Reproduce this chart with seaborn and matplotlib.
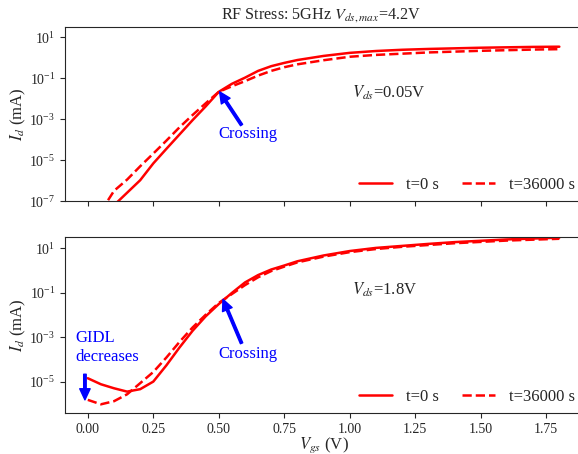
import numpy as np
import pandas as pd
import matplotlib
matplotlib.use("Agg")
import matplotlib.pyplot as plt
import seaborn as sns

# ---------------- data (log10 of Id in mA) ----------------
vgs_top_t0 = [0.10, 0.20, 0.25, 0.30, 0.35, 0.40, 0.45, 0.50, 0.55, 0.60, 0.65, 0.70,
              0.75, 0.80, 0.90, 1.00, 1.10, 1.20, 1.30, 1.40, 1.50, 1.60, 1.70, 1.80]
log_top_t0 = [-7.2, -5.98, -5.16, -4.45, -3.75, -3.05, -2.38, -1.67, -1.28, -0.98, -0.65, -0.42,
              -0.26, -0.12, 0.08, 0.23, 0.32, 0.38, 0.42, 0.45, 0.48, 0.50, 0.52, 0.53]

vgs_top_t1 = [0.05, 0.10, 0.15, 0.20, 0.25, 0.30, 0.35, 0.40, 0.45, 0.50, 0.55, 0.60, 0.65,
              0.70, 0.75, 0.80, 0.90, 1.00, 1.10, 1.20, 1.30, 1.40, 1.50, 1.60, 1.70, 1.80]
log_top_t1 = [-7.5, -6.5, -5.95, -5.3, -4.68, -4.05, -3.4, -2.8, -2.23, -1.67, -1.4, -1.15, -0.88,
              -0.65, -0.47, -0.33, -0.13, 0.04, 0.13, 0.19, 0.25, 0.29, 0.33, 0.36, 0.39, 0.41]

vgs_bot = [0.00, 0.05, 0.10, 0.15, 0.20, 0.25, 0.30, 0.35, 0.40, 0.45, 0.50, 0.55, 0.60, 0.65,
           0.70, 0.75, 0.80, 0.90, 1.00, 1.10, 1.20, 1.30, 1.40, 1.50, 1.60, 1.70, 1.80]
log_bot_t0 = [-4.83, -5.10, -5.28, -5.43, -5.32, -4.98, -4.25, -3.45, -2.70, -2.05, -1.50, -1.00,
              -0.53, -0.20, 0.05, 0.23, 0.42, 0.68, 0.88, 1.02, 1.11, 1.20, 1.28, 1.34, 1.40, 1.44, 1.48]
log_bot_t1 = [-5.80, -6.00, -5.86, -5.55, -5.05, -4.55, -3.90, -3.20, -2.55, -1.98, -1.45, -1.05,
              -0.65, -0.30, -0.02, 0.18, 0.37, 0.63, 0.83, 0.97, 1.07, 1.15, 1.23, 1.29, 1.35, 1.39, 1.43]

label_t0 = "t=0 s"
label_t1 = "t=36000 s"
xticks = [0.00, 0.25, 0.50, 0.75, 1.00, 1.25, 1.50, 1.75]

# ---------------- style ----------------
sns.set_style("ticks")
plt.rcParams['font.family'] = ['Liberation Serif', 'DejaVu Serif']
plt.rcParams['mathtext.fontset'] = 'stix'
plt.rcParams['xtick.labelsize'] = 10
plt.rcParams['ytick.labelsize'] = 10

fig = plt.figure(figsize=(5.78, 4.54), dpi=100)
ax1 = fig.add_axes([0.1125, 0.557, 0.896, 0.3835])
ax2 = fig.add_axes([0.1125, 0.0903, 0.896, 0.3877], sharex=ax1)

def draw(ax, x0, y0, x1, y1):
    d0 = pd.DataFrame({"Vgs": x0, "Id": np.power(10.0, y0)})
    d1 = pd.DataFrame({"Vgs": x1, "Id": np.power(10.0, y1)})
    sns.lineplot(data=d0, x="Vgs", y="Id", ax=ax, color="#ff0000", lw=1.8, label=label_t0)
    sns.lineplot(data=d1, x="Vgs", y="Id", ax=ax, color="#ff0000", lw=1.8, ls="--", label=label_t1)
    ax.set_yscale("log")
    ax.spines["right"].set_visible(False)
    ax.minorticks_off()
    ax.legend(loc="lower right", ncol=2, frameon=False, fontsize=12,
              columnspacing=1.4, handlelength=2.0, borderaxespad=0.1)
    ax.set_ylabel("$I_d$ (mA)", fontsize=12, labelpad=1)

draw(ax1, vgs_top_t0, log_top_t0, vgs_top_t1, log_top_t1)
draw(ax2, vgs_bot, log_bot_t0, vgs_bot, log_bot_t1)

ax1.set_xlim(-0.087, 1.89)
ax1.set_xticks(xticks)
ax1.tick_params(labelbottom=False)
ax1.set_xlabel("")
ax1.set_ylim(1e-7, 10**1.49)
ax1.set_yticks([1e-7, 1e-5, 1e-3, 1e-1, 1e1])
ax1.minorticks_off()
ax1.set_title("RF Stress: 5GHz $V_{ds,max}$=4.2V", fontsize=11.6, x=0.495)

ax2.set_ylim(10**-6.39, 10**1.51)
ax2.set_yticks([1e-5, 1e-3, 1e-1, 1e1])
ax2.minorticks_off()
ax2.set_xlabel("$V_{gs}$ (V)", fontsize=12, labelpad=0)

arrow = dict(facecolor="blue", edgecolor="blue", width=1.8, headwidth=7.5, headlength=8, shrink=0)

ax1.text(0.61, 10**-3.73, "Crossing", ha="center", va="center", color="blue", fontsize=12)
ax1.annotate("", xy=(0.503, 10**-1.67), xytext=(0.587, 10**-3.29), arrowprops=arrow)
ax1.text(1.008, 10**-1.73, "$V_{ds}$=0.05V", ha="left", va="center", fontsize=12, color=".15")

ax2.text(0.611, 10**-3.76, "Crossing", ha="center", va="center", color="blue", fontsize=12)
ax2.annotate("", xy=(0.516, 10**-1.29), xytext=(0.587, 10**-3.26), arrowprops=arrow)
ax2.text(1.007, 10**-0.87, "$V_{ds}$=1.8V", ha="left", va="center", fontsize=12, color=".15")
ax2.text(-0.049, 10**-3.45, "GIDL\ndecreases", ha="left", va="center", fontsize=12, color="blue")
ax2.annotate("", xy=(-0.011, 10**-5.80), xytext=(-0.011, 10**-4.65), arrowprops=arrow)

fig.savefig("out.png", dpi=100)
